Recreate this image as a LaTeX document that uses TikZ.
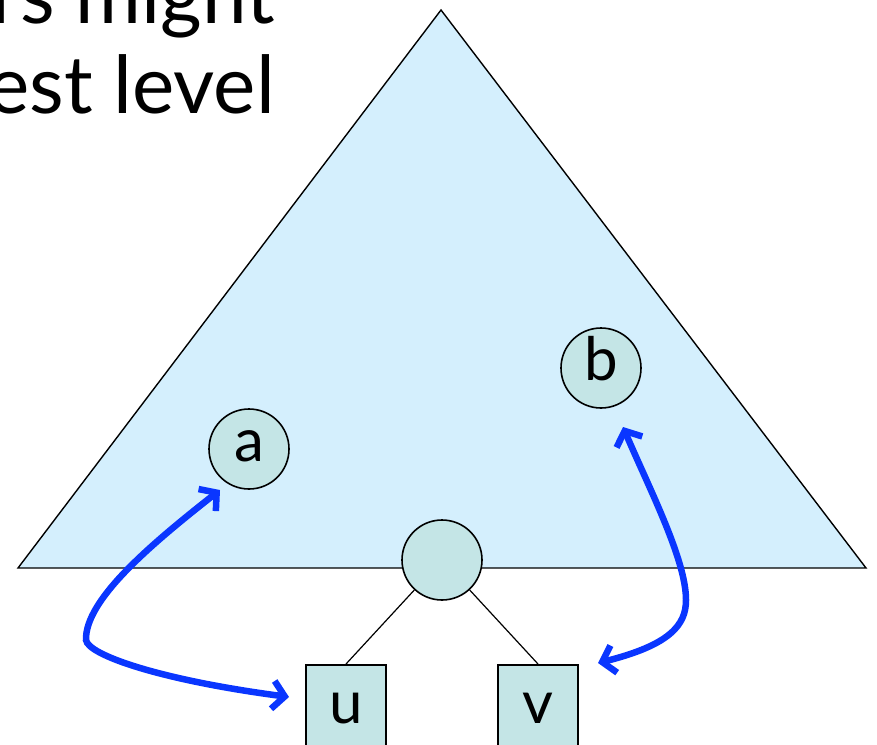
\documentclass[tikz,border=0pt]{standalone}
\usepackage{fontspec}
\setmainfont{Lato}
\usetikzlibrary{arrows.meta, calc}
\definecolor{treefill}{HTML}{D4EFFD}
\definecolor{nodefill}{HTML}{C4E5E6}
\definecolor{swapblue}{HTML}{0A36FF}

\begin{document}
\begin{tikzpicture}[x=1pt, y=-1pt, >={Straight Barb[length=12pt, width=28pt]}]
  % Node Styles
  \tikzstyle{treenode} = [circle, draw=black, fill=nodefill, line width=1.6pt, minimum size=80pt,
    inner sep=0pt, text height=42pt, text depth=18pt, font=\fontsize{60}{64}\selectfont]
  \tikzstyle{leafbox} = [rectangle, draw=black, fill=nodefill, line width=2pt, minimum width=80pt,
    minimum height=92pt, inner sep=0pt, text height=42pt, text depth=18pt, font=\fontsize{60}{64}\selectfont]
  \tikzstyle{swaparrow} = [<->, line width=6.5pt, color=swapblue]

  \useasboundingbox (0,0) rectangle (877,744);

  % Heading (cut at the left edge)
  \node[anchor=base east, align=right, inner sep=0pt, font=\fontsize{80}{90}\selectfont] (heading)
    at (275,113) {rs might\\est level};

  % Tree
  \draw[fill=treefill, line width=1.4pt] (441,10) -- (866,568) -- (18,568) -- cycle;

  \node[treenode] (a) at (249,449) {a};
  \node[treenode] (b) at (601,368) {b};
  \node[treenode] (root) at (442,560) {};
  \node[leafbox] (u) at (346,711) {u};
  \node[leafbox] (v) at (538,711) {v};

  \draw[line width=1.2pt] (root) -- (u.north);
  \draw[line width=1.2pt] (root) -- (v.north);

  % Swap Arrows
  \coordinate (atip) at ($(a)+(-29,41)$);
  \coordinate (utip) at ($(u.west)+(-16,-14)$);
  \coordinate (btip) at ($(b)+(22,59)$);
  \coordinate (vtip) at ($(v.east)+(19,-48)$);

  \draw[swaparrow] (atip) .. controls (150,545) and (85,600) .. (86,640)
    .. controls (88,655) and (160,680) .. (utip);
  \draw[swaparrow] (btip) .. controls (650,490) and (686,560) .. (686,600)
    .. controls (686,625) and (670,645) .. (vtip);

\end{tikzpicture}
\end{document}
